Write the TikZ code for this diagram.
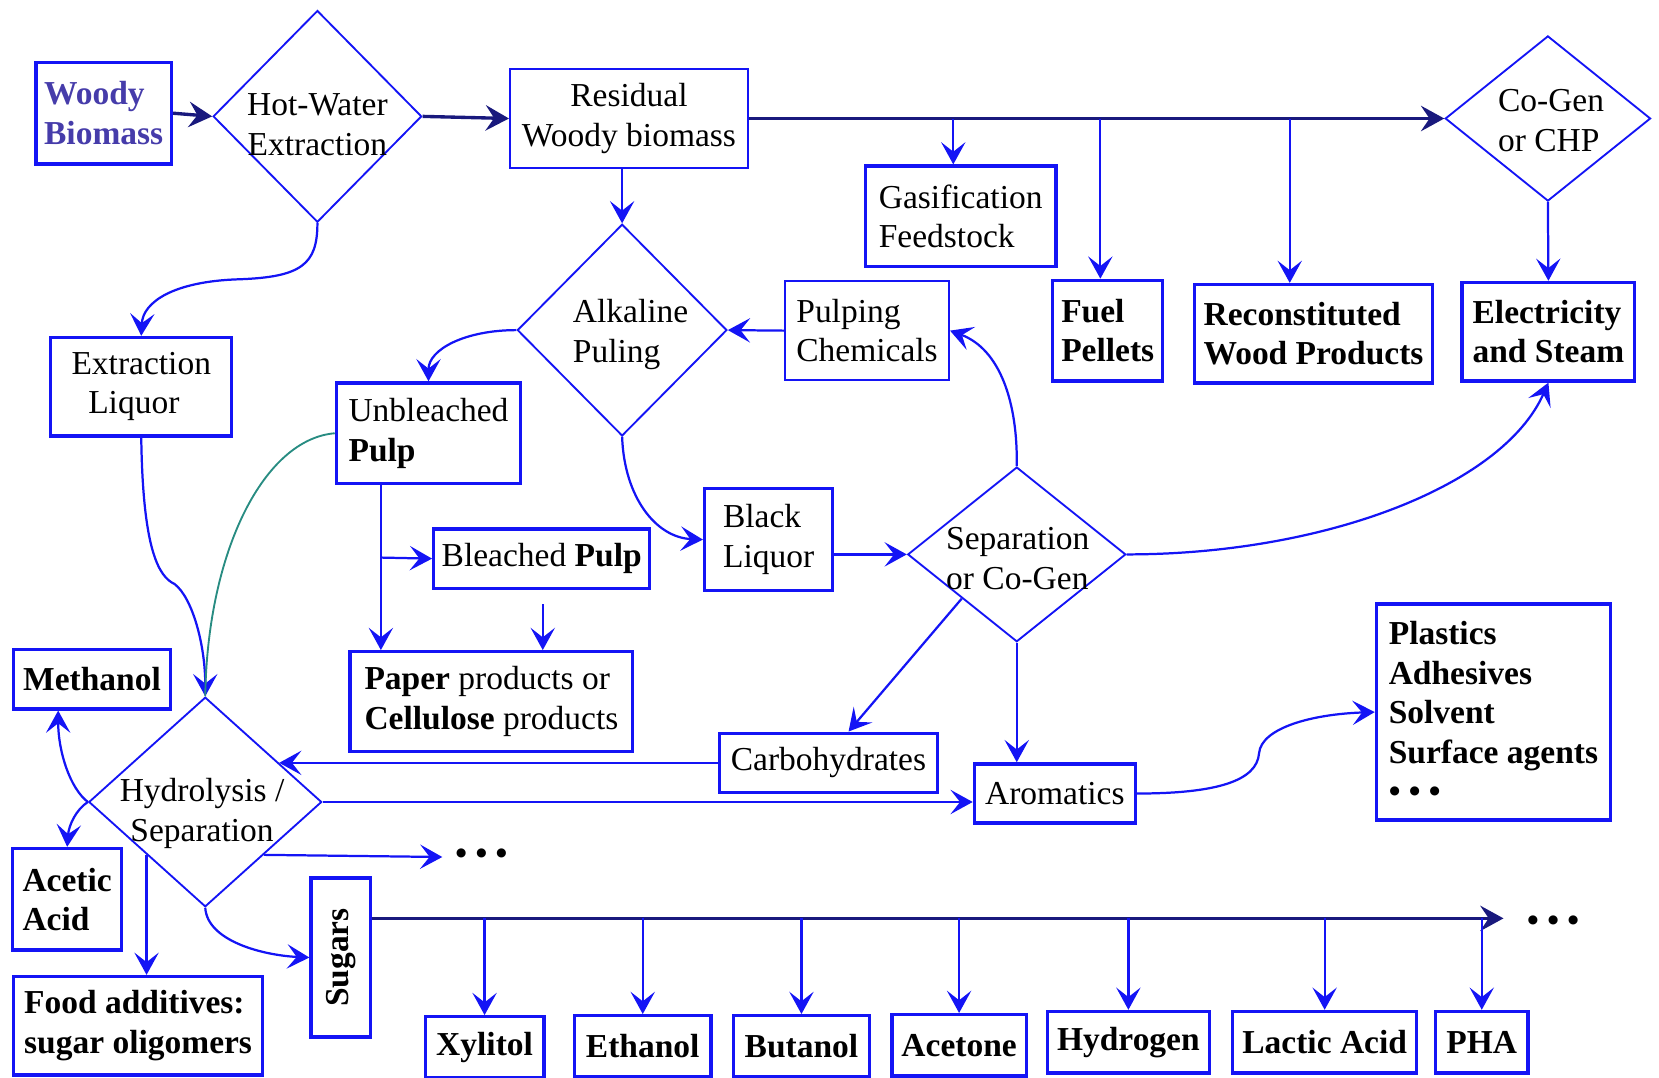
\documentclass[tikz,border=0pt]{standalone}
\usepackage{fontspec}
\setmainfont{Liberation Serif}
\usetikzlibrary{shapes.geometric,arrows.meta,calc}
\definecolor{bblue}{RGB}{20,20,245}
\definecolor{navy}{RGB}{25,25,125}
\definecolor{teal2}{RGB}{40,140,130}
\definecolor{woodtxt}{RGB}{70,60,170}
\begin{document}
\begin{tikzpicture}[x=0.01cm,y=-0.01cm,
  every node/.style={font=\fontsize{9}{10.6}\selectfont},
  btxt/.style={font=\fontsize{9}{10.6}\selectfont\bfseries},
  box/.style={draw=bblue,line width=0.9pt,inner sep=0pt,align=left},
  tbox/.style={box,line width=0.5pt},
  dia/.style={draw=bblue,line width=0.5pt,shape=diamond,inner sep=0pt},
  arr/.style={bblue,line width=0.6pt,-{Stealth[length=2.1mm,width=2.3mm,inset=0.9mm]}},
  narr/.style={navy,line width=0.9pt,-{Stealth[length=2.2mm,width=2.4mm,inset=0.8mm]}}]
\useasboundingbox (0,0) rectangle (1568,1018);
\node[box,btxt,text=woodtxt,minimum width=1.28cm,minimum height=0.96cm] (woody) at (98,107) {Woody\\Biomass};
\node[dia,minimum width=1.97cm,minimum height=2cm] (hwe) at (300,110) {};
\node[align=center] (hwetxt) at (300,118) {Hot-Water\\Extraction};
\node[tbox,align=center,minimum width=2.25cm,minimum height=0.94cm] (resid) at (594.5,112) {Residual\\Woody biomass};
\node[dia,minimum width=1.94cm,minimum height=1.56cm] (cogen) at (1463,112) {};
\node[align=left] (cogentxt) at (1466,114) {Co-Gen\\or CHP};
\node[box,minimum width=1.8cm,minimum height=0.95cm] (gasif) at (908,204.5) {Gasification\\Feedstock};
\node[box,btxt,minimum width=1.04cm,minimum height=0.95cm] (fuel) at (1047,312.5) {Fuel\\Pellets};
\node[box,btxt,minimum width=2.25cm,minimum height=0.93cm] (recon) at (1241.5,315.5) {Reconstituted\\Wood Products};
\node[box,btxt,minimum width=1.63cm,minimum height=0.93cm] (elec) at (1463.5,313.5) {Electricity\\and Steam};
\node[dia,minimum width=1.98cm,minimum height=2cm] (alk) at (588,312) {};
\node[align=left] (alktxt) at (596,316) {Alkaline\\Puling};
\node[tbox,minimum width=1.55cm,minimum height=0.93cm] (pulpchem) at (819.5,312.5) {Pulping\\Chemicals};
\node[box,minimum width=1.71cm,minimum height=0.93cm] (extliq) at (133.5,365.5) {Extraction\\\hspace{0.5em}Liquor};
\node[box,minimum width=1.74cm,minimum height=0.95cm] (unbl) at (405,409.5) {Unbleached\\\textbf{Pulp}};
\node[box,minimum width=2.04cm,minimum height=0.56cm] (bleach) at (512,528) {Bleached \textbf{Pulp}};
\node[box,minimum width=2.67cm,minimum height=0.94cm] (paper) at (464.5,663) {\textbf{Paper} products or\\\textbf{Cellulose} products};
\node[box,minimum width=1.21cm,minimum height=0.96cm] (black) at (726.5,510) {Black\\Liquor};
\node[dia,minimum width=2.06cm,minimum height=1.65cm] (sep) at (961,524) {};
\node[align=left] (septxt) at (962,528) {Separation\\or Co-Gen};
\node[box,minimum width=2.06cm,minimum height=0.56cm] (carb) at (783,721) {Carbohydrates};
\node[box,minimum width=1.52cm,minimum height=0.56cm] (arom) at (997,750) {Aromatics};
\node[box,btxt,minimum width=2.21cm,minimum height=2.04cm] (plast) at (1411.5,673) {Plastics\\Adhesives\\Solvent\\Surface agents\\\textbullet\ \textbullet\ \textbullet};
\node[dia,minimum width=2.2cm,minimum height=1.98cm] (hyd) at (194,758) {};
\node[align=center] (hydtxt) at (191,769) {Hydrolysis /\\Separation};
\node[box,btxt,minimum width=1.48cm,minimum height=0.56cm] (meth) at (87,642) {Methanol};
\node[box,btxt,minimum width=1.03cm,minimum height=0.96cm] (acet) at (63.5,850) {Acetic\\Acid};
\node[box,btxt,minimum width=2.35cm,minimum height=0.93cm] (food) at (130.5,969.5) {Food additives:\\sugar oligomers};
\node[box,minimum width=0.56cm,minimum height=1.5cm] (sugars) at (322,905) {};
\node[btxt,rotate=90] (sugtxt) at (322,905) {Sugars};
\foreach \nm/\cx/\cy/\w/\txt in {xyl/458/990/1.12/Xylitol,eth/607.5/989/1.29/Ethanol,but/757.5/989/1.29/Butanol,acetn/906.5/988/1.27/Acetone,hydro/1066.5/985/1.53/Hydrogen,lact/1252/985/1.74/Lactic Acid,pha/1400.5/985/0.87/PHA}
  \node[box,btxt,minimum width=\w cm,minimum height=0.58cm] (\nm) at (\cx,\cy) {\txt};
\node[btxt] (dots1) at (455,810) {\textbullet\ \textbullet\ \textbullet};
\node[btxt] (dots2) at (1468,873) {\textbullet\ \textbullet\ \textbullet};
\coordinate (g1) at (901,112);
\coordinate (g2) at (1040,112);
\coordinate (g3) at (1219,112);
\coordinate (hc) at ($(hyd.north)!0.63!(hyd.east)$);
\coordinate (sg) at ([yshift=0.37cm]sugars.east);
\draw[narr] (woody.east) -- (hwe.west);
\draw[narr] (hwe.east) -- (resid.west);
\draw[narr] (resid.east) -- (cogen.west);
\draw[arr] (g1) -- (g1 |- gasif.north);
\draw[arr] (g2) -- (g2 |- fuel.north);
\draw[arr] (g3) -- (g3 |- recon.north);
\draw[arr] (cogen.south) -- (elec.north);
\draw[arr] (alk.north |- resid.south) -- (alk.north);
\draw[arr] (pulpchem.west) -- (alk.east);
\draw[arr] (hwe.south) .. controls (300,250) and (285,262) .. (225,264) .. controls (165,266) and (135,285) .. (extliq.north);
\draw[arr] (alk.west) .. controls (440,312) and (405,330) .. (unbl.north);
\draw[arr] (alk.south) .. controls (590,470) and (620,508) .. (black.west);
\draw[arr] (black.east |- sep.west) -- (sep.west);
\draw[arr] (sep.north) .. controls (962,380) and (945,330) .. (pulpchem.east);
\draw[arr] (sep.east) .. controls (1250,524) and (1420,460) .. (elec.south);
\draw[arr] (sep.south west) -- ([xshift=0.19cm]carb.north);
\draw[arr] (sep.south) -- (sep.south |- arom.north);
\draw[arr] (arom.east) .. controls (1150,750) and (1188,738) .. (1190,712) .. controls (1192,688) and (1240,675) .. (plast.west);
\draw[arr] (unbl.south -| 360,0) -- (paper.north -| 360,0);
\draw[arr] (360,527) -- (bleach.west);
\draw[arr] (513,571) -- (paper.north -| 513,0);
\draw[arr] (extliq.south) .. controls (135,520) and (150,545) .. (165,552) .. controls (182,565) and (194,610) .. (hyd.north);
\draw[teal2,line width=0.5pt] (unbl.west) .. controls (250,415) and (196,520) .. (hyd.north);
\draw[arr] (carb.west) -- (carb.west -| hc);
\draw[arr] (hyd.east) -- (hyd.east -| arom.west);
\draw[arr] (hyd.south east) -- (dots1.west);
\draw[arr] (hyd.west) .. controls (66,745) and (55,710) .. ([xshift=-0.32cm]meth.south);
\draw[arr] (hyd.west) .. controls (72,765) and (65,780) .. (acet.north);
\draw[arr] (hyd.south west) -- (hyd.south west |- food.north);
\draw[arr] (hyd.south) .. controls (196,890) and (250,903) .. (sugars.west);
\draw[narr,line width=0.7pt] (sg) -- ([xshift=-0.1cm]sg -| dots2.west);
\foreach \nm in {xyl,eth,but,acetn,hydro,lact,pha}
  \draw[arr] (\nm.north |- sg) -- (\nm.north);
\end{tikzpicture}
\end{document}
